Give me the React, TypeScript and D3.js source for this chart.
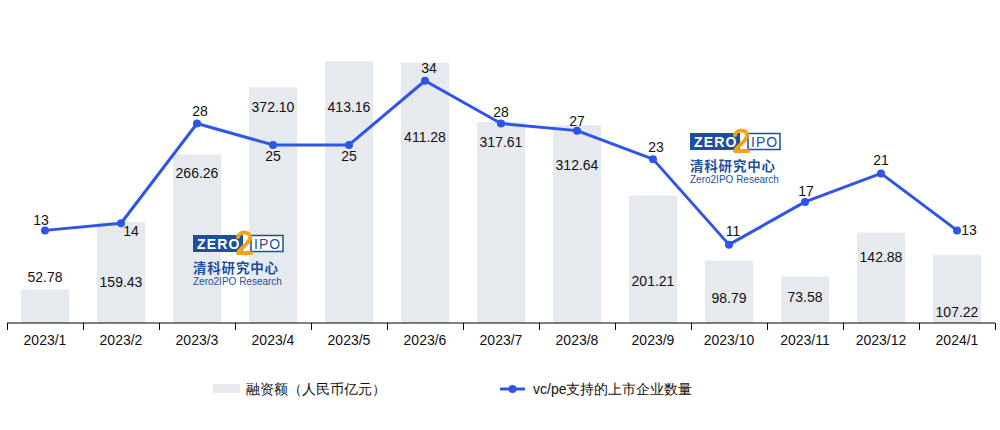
import React from "react";
import * as d3 from "d3";

const categories = ["2023/1","2023/2","2023/3","2023/4","2023/5","2023/6","2023/7","2023/8","2023/9","2023/10","2023/11","2023/12","2024/1"];
const amounts = [52.78,159.43,266.26,372.10,413.16,411.28,317.61,312.64,201.21,98.79,73.58,142.88,107.22];
const amountLabels = ["52.78","159.43","266.26","372.10","413.16","411.28","317.61","312.64","201.21","98.79","73.58","142.88","107.22"];
const counts = [13,14,28,25,25,34,28,27,23,11,17,21,13];
const barSeriesName = "融资额（人民币亿元）";
const lineSeriesName = "vc/pe支持的上市企业数量";

// label placement (styling), px offsets
const barLabelDy = [-12,60,19,20,46,75,20,40,86,38,21,25,57];
const lineLabelDx = [-4,10,3,0,0,4,0,0,3,4,1,0,12];
const lineLabelDy = [-10,8,-12,11,11,-13,-11,-10,-12,-14,-11,-13,0];

const W = 1000, H = 430;
const left = 7, right = 995, top = 38, base = 323;
const FONT = "'Liberation Sans', Arial, sans-serif";
const BLUE = "#2F55E6";
const BAR = "#E6E9EE";

function Logo({ x, y }: { x: number; y: number }) {
  const dark = "#1E4F9C";
  return (
    <g transform={`translate(${x},${y})`}>
      <rect x={0} y={0} width={50} height={17} fill={dark} />
      <text x={4} y={14} fill="#fff" fontFamily={FONT} fontWeight="bold" fontSize={14} letterSpacing={1.2}>ZERO</text>
      <rect x={58} y={0.5} width={32} height={16} fill="#fff" stroke={dark} strokeWidth={1.5} />
      <text x={61} y={14} fill={dark} fontFamily={FONT} fontSize={14} letterSpacing={1}>IPO</text>
      <path d="M45,2 C46,-4 58,-4 57,3 C56,9 48,12 45,18 L58,18" fill="none" stroke="#F2A21E" strokeWidth={4} strokeLinecap="round" strokeLinejoin="round" />
      <text x={0} y={38} fill={dark} fontFamily="'Noto Sans CJK SC', sans-serif" fontWeight="bold" fontSize={13.5} letterSpacing={0.8}>清科研究中心</text>
      <text x={0} y={50} fill={dark} fontFamily={FONT} fontSize={10}>Zero2IPO Research</text>
    </g>
  );
}

export default function App() {
  const xOuter = d3.scaleBand<string>().domain(categories).range([left, right]);
  const yL = d3.scaleLinear().domain([0, 450]).range([base, top]);
  const yR = d3.scaleLinear().domain([0, 40]).range([base, top]);
  const cx = (c: string) => (xOuter(c) as number) + xOuter.bandwidth() / 2;
  const line = d3.line<number>().x((_, i) => cx(categories[i])).y(d => yR(d));
  const ticks = d3.range(categories.length + 1).map(i => left + i * xOuter.bandwidth());

  return (
    <svg width={W} height={H} style={{ position: "absolute", left: 0, top: 0, background: "#fff" }}>
      {categories.map((c, i) => (
        <rect key={c} x={cx(c) - 24} y={yL(amounts[i])} width={48} height={base - yL(amounts[i])} fill={BAR} />
      ))}
      <Logo x={193} y={235} />
      <Logo x={690} y={133} />
      {categories.map((c, i) => (
        <text key={"bl" + c} x={cx(c)} y={yL(amounts[i]) + barLabelDy[i]} dy="0.35em" textAnchor="middle" fontFamily={FONT} fontSize={14} fill="#111">{amountLabels[i]}</text>
      ))}
      <line x1={left} x2={right} y1={base} y2={base} stroke="#000" strokeWidth={1} />
      {ticks.map((t, i) => (
        <line key={"t" + i} x1={Math.round(t) + 0.5} x2={Math.round(t) + 0.5} y1={base} y2={base + 7} stroke="#000" />
      ))}
      {categories.map(c => (
        <text key={"xl" + c} x={cx(c)} y={340} dy="0.35em" textAnchor="middle" fontFamily={FONT} fontSize={14} fill="#111">{c}</text>
      ))}
      <path d={line(counts) || ""} fill="none" stroke={BLUE} strokeWidth={3} strokeLinejoin="round" />
      {counts.map((v, i) => (
        <circle key={"p" + i} cx={cx(categories[i])} cy={yR(v)} r={4} fill={BLUE} />
      ))}
      {counts.map((v, i) => (
        <text key={"ll" + i} x={cx(categories[i]) + lineLabelDx[i]} y={yR(v) + lineLabelDy[i]} dy="0.35em" textAnchor="middle" fontFamily={FONT} fontSize={14} fill="#111">{v}</text>
      ))}
      <g>
        <rect x={213} y={384} width={27} height={9} fill={BAR} />
        <text x={246} y={389} dy="0.35em" fontFamily={FONT} fontSize={14} fill="#111">{barSeriesName}</text>
        <line x1={500} x2={525} y1={389} y2={389} stroke={BLUE} strokeWidth={3} />
        <circle cx={512.5} cy={389} r={4} fill={BLUE} />
        <text x={533} y={389} dy="0.35em" fontFamily={FONT} fontSize={14} fill="#111">{lineSeriesName}</text>
      </g>
    </svg>
  );
}
